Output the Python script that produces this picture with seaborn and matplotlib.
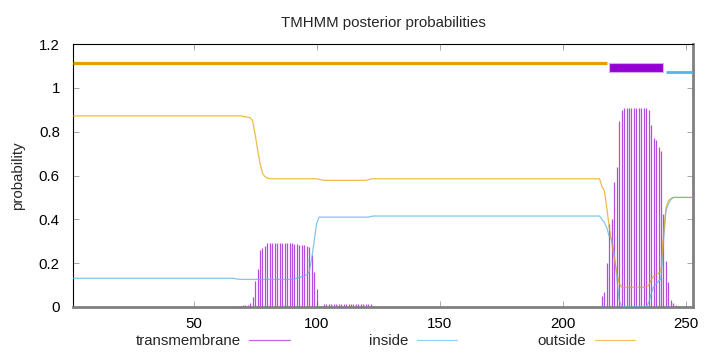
import matplotlib
matplotlib.use("Agg")
import matplotlib.pyplot as plt
import seaborn as sns

# residue positions
residues = list(range(1, 254))

# posterior probabilities, one value per residue
outside = [
    .872, .872, .872, .872, .872, .872, .872, .872, .872, .872,
    .872, .872, .872, .872, .872, .872, .872, .872, .872, .872,
    .872, .872, .872, .872, .872, .872, .872, .872, .872, .872,
    .872, .872, .872, .872, .872, .872, .872, .872, .872, .872,
    .872, .872, .872, .872, .872, .872, .872, .872, .872, .872,
    .872, .872, .872, .872, .872, .872, .872, .872, .872, .872,
    .872, .872, .872, .872, .872, .872, .872, .872, .872, .870,
    .868, .866, .864, .850, .790, .720, .657, .610, .595, .588,
    .585, .585, .585, .585, .585, .585, .585, .585, .585, .585,
    .585, .585, .585, .585, .585, .585, .585, .585, .585, .585,
    .583, .580, .578, .578, .578, .578, .578, .578, .578, .578,
    .578, .578, .578, .578, .578, .578, .578, .578, .578, .578,
    .580, .584, .585, .585, .585, .585, .585, .585, .585, .585,
    .585, .585, .585, .585, .585, .585, .585, .585, .585, .585,
    .585, .585, .585, .585, .585, .585, .585, .585, .585, .585,
    .585, .585, .585, .585, .585, .585, .585, .585, .585, .585,
    .585, .585, .585, .585, .585, .585, .585, .585, .585, .585,
    .585, .585, .585, .585, .585, .585, .585, .585, .585, .585,
    .585, .585, .585, .585, .585, .585, .585, .585, .585, .585,
    .585, .585, .585, .585, .585, .585, .585, .585, .585, .585,
    .585, .585, .585, .585, .585, .585, .585, .585, .585, .585,
    .585, .585, .585, .585, .585, .550, .530, .450, .360, .290,
    .220, .160, .110, .090, .090, .090, .090, .090, .090, .090,
    .090, .090, .090, .090, .100, .125, .141, .148, .154, .170,
    .330, .450, .485, .495, .500, .500, .500, .500, .500, .500,
    .500, .500, .500,
]

inside = [
    .131, .131, .131, .131, .131, .131, .131, .131, .131, .131,
    .131, .131, .131, .131, .131, .131, .131, .131, .131, .131,
    .131, .131, .131, .131, .131, .131, .131, .131, .131, .131,
    .131, .131, .131, .131, .131, .131, .131, .131, .131, .131,
    .131, .131, .131, .131, .131, .131, .131, .131, .131, .131,
    .131, .131, .131, .131, .131, .131, .131, .131, .131, .131,
    .131, .131, .131, .131, .131, .131, .129, .127, .126, .126,
    .126, .126, .126, .126, .126, .126, .126, .126, .126, .126,
    .126, .126, .126, .126, .126, .126, .126, .126, .126, .126,
    .128, .132, .135, .138, .142, .148, .160, .220, .300, .380,
    .410, .410, .410, .410, .410, .410, .410, .410, .410, .410,
    .410, .410, .410, .410, .410, .410, .410, .410, .410, .410,
    .410, .413, .415, .415, .415, .415, .415, .415, .415, .415,
    .415, .415, .415, .415, .415, .415, .415, .415, .415, .415,
    .415, .415, .415, .415, .415, .415, .415, .415, .415, .415,
    .415, .415, .415, .415, .415, .415, .415, .415, .415, .415,
    .415, .415, .415, .415, .415, .415, .415, .415, .415, .415,
    .415, .415, .415, .415, .415, .415, .415, .415, .415, .415,
    .415, .415, .415, .415, .415, .415, .415, .415, .415, .415,
    .415, .415, .415, .415, .415, .415, .415, .415, .415, .415,
    .415, .415, .415, .415, .415, .415, .415, .415, .415, .415,
    .415, .415, .415, .415, .415, .400, .385, .360, .320, .310,
    .240, .140, .030, .005, 0.0, 0.0, 0.0, 0.0, 0.0, 0.0,
    0.0, 0.0, 0.0, 0.0, .020, .060, .093, .105, .118, .130,
    .300, .440, .470, .490, .500, .500, .500, .500, .500, .500,
    .500, .500, .500,
]

transmembrane = [
    0.0, 0.0, 0.0, 0.0, 0.0, 0.0, 0.0, 0.0, 0.0, 0.0,
    0.0, 0.0, 0.0, 0.0, 0.0, 0.0, 0.0, 0.0, 0.0, 0.0,
    0.0, 0.0, 0.0, 0.0, 0.0, 0.0, 0.0, 0.0, 0.0, 0.0,
    0.0, 0.0, 0.0, 0.0, 0.0, 0.0, 0.0, 0.0, 0.0, 0.0,
    0.0, 0.0, 0.0, 0.0, 0.0, 0.0, 0.0, 0.0, 0.0, 0.0,
    0.0, 0.0, 0.0, 0.0, 0.0, 0.0, 0.0, 0.0, 0.0, 0.0,
    0.0, 0.0, 0.0, 0.0, 0.0, 0.0, .004, .005, .006, .007,
    .008, .010, .020, .047, .120, .173, .260, .270, .280, .290,
    .290, .290, .290, .290, .290, .290, .290, .290, .290, .290,
    .288, .286, .285, .284, .283, .280, .275, .237, .160, .080,
    .005, .004, .012, .012, .012, .012, .012, .012, .012, .012,
    .012, .012, .012, .012, .012, .012, .012, .012, .012, .012,
    .012, .012, .004, 0.0, 0.0, 0.0, 0.0, 0.0, 0.0, 0.0,
    0.0, 0.0, 0.0, 0.0, 0.0, 0.0, 0.0, 0.0, 0.0, 0.0,
    0.0, 0.0, 0.0, 0.0, 0.0, 0.0, 0.0, 0.0, 0.0, 0.0,
    0.0, 0.0, 0.0, 0.0, 0.0, 0.0, 0.0, 0.0, 0.0, 0.0,
    0.0, 0.0, 0.0, 0.0, 0.0, 0.0, 0.0, 0.0, 0.0, 0.0,
    0.0, 0.0, 0.0, 0.0, 0.0, 0.0, 0.0, 0.0, 0.0, 0.0,
    0.0, 0.0, 0.0, 0.0, 0.0, 0.0, 0.0, 0.0, 0.0, 0.0,
    0.0, 0.0, 0.0, 0.0, 0.0, 0.0, 0.0, 0.0, 0.0, 0.0,
    0.0, 0.0, 0.0, 0.0, 0.0, 0.0, 0.0, 0.0, 0.0, 0.0,
    0.0, 0.0, 0.0, 0.0, .002, .050, .070, .200, .380, .400,
    .570, .640, .850, .900, .910, .910, .910, .910, .910, .910,
    .910, .910, .910, .910, .900, .830, .770, .760, .730, .710,
    .425, .210, .115, .030, .020, .008, .006, .005, .005, 0.0,
    0.0, 0.0, 0.0,
]

# predicted topology
topo_labels = ["outside", "TMhelix", "inside"]
topo_start = [1, 219, 242]
topo_end = [218, 241, 253]

c_tm = "#9400d3"
c_in = "#56b4e9"
c_out = "#e69f00"
fs = 10.8

sns.set_theme(style="ticks")
plt.rcParams["font.family"] = ["Liberation Sans", "DejaVu Sans"]

fig = plt.figure(figsize=(7.2, 3.52), dpi=100)
ax = fig.add_axes([73 / 720, 1 - 307 / 352, 620 / 720, 263 / 352])

# transmembrane as impulses, then the two curves
ax.vlines(residues, 0, transmembrane, color=c_tm, lw=0.9, alpha=0.7, zorder=2)
sns.lineplot(x=residues, y=inside, color=c_in, lw=0.9, alpha=0.75, ax=ax, zorder=3)
sns.lineplot(x=residues, y=outside, color=c_out, lw=0.9, alpha=0.7, ax=ax, zorder=4)

# topology bar on top
for lab, s, e in zip(topo_labels, topo_start, topo_end):
    if lab == "outside":
        ax.hlines(1.113, s, e, color=c_out, lw=2.3, zorder=5)
    elif lab == "inside":
        ax.hlines(1.072, s, e, color=c_in, lw=2.0, zorder=5)
    else:
        ax.fill_between([s, e], 1.072, 1.112, facecolor=c_tm,
                        edgecolor="#dca8f0", lw=0.8, zorder=5)

ax.set_xlim(1, 253)
ax.set_ylim(0, 1.2)
ax.set_xticks([50, 100, 150, 200, 250])
ax.set_yticks([0, 0.2, 0.4, 0.6, 0.8, 1.0, 1.2])
ax.set_yticklabels(["0", "0.2", "0.4", "0.6", "0.8", "1", "1.2"])
ax.tick_params(direction="in", length=4, width=0.6, color="#999999",
               top=True, right=True, labelsize=fs, labelcolor="black")
ax.tick_params(axis="x", pad=7)
ax.tick_params(axis="y", pad=9.5)
ax.set_xlabel("")
ax.set_ylabel("probability", fontsize=fs, labelpad=10)
ax.set_title("TMHMM posterior probabilities", fontsize=fs, pad=12.5)

for side in ["left", "top"]:
    ax.spines[side].set_color("black")
    ax.spines[side].set_linewidth(0.8)
for side in ["right", "bottom"]:
    ax.spines[side].set_color("#808080")
    ax.spines[side].set_linewidth(2.0)

handles = [
    plt.Line2D([], [], color=c_tm, lw=0.9, alpha=0.6),
    plt.Line2D([], [], color=c_in, lw=0.9, alpha=0.6),
    plt.Line2D([], [], color=c_out, lw=0.9, alpha=0.6),
]
fig.legend(handles, ["transmembrane", "inside", "outside"], loc="center",
           bbox_to_anchor=(385 / 720, 1 - 341 / 352), ncol=3, frameon=False,
           markerfirst=False, handlelength=2.67, handletextpad=0.6,
           columnspacing=5.3, fontsize=fs, borderpad=0.2)

fig.savefig("out.png", dpi=100)
